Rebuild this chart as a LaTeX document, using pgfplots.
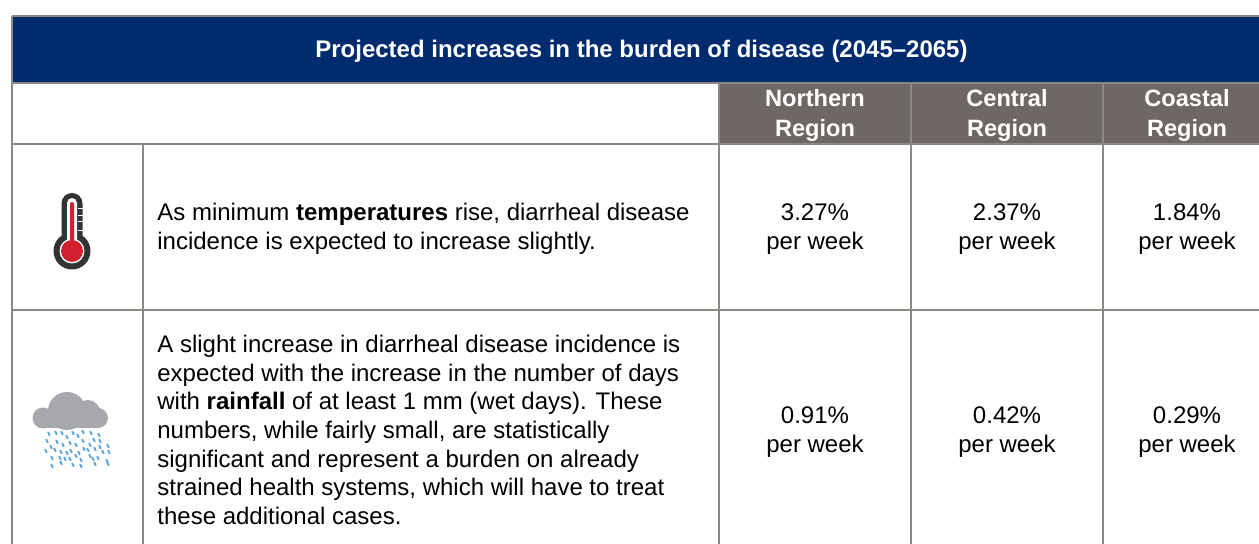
\documentclass[border=0pt]{standalone}
\usepackage{fontspec}
\setmainfont{Liberation Sans}
\usepackage{pgfplots}
\pgfplotsset{compat=1.18}
\definecolor{navy}{HTML}{002B6E}
\definecolor{headgray}{HTML}{6E6763}
\definecolor{rule}{HTML}{8C8883}
\definecolor{thermo}{HTML}{333333}
\definecolor{thred}{HTML}{D2202E}
\definecolor{cloud}{HTML}{A7A8AB}
\definecolor{rain}{HTML}{5AA5DA}
\pgfdeclareplotmark{raindrop}{%
  \pgfpathmoveto{\pgfqpoint{-0.45pt}{0.9pt}}%
  \pgfpathlineto{\pgfqpoint{0.45pt}{-0.9pt}}%
  \pgfusepathqstroke}
\newcommand{\bodyfont}{\fontsize{12}{14.35}\selectfont}
\newcommand{\cellfont}{\fontsize{12}{14.7}\selectfont}
\begin{document}
\begin{tikzpicture}
\begin{axis}[
  scale only axis,
  width=629.5pt,
  height=272pt,
  xmin=0, xmax=1259,
  ymin=0, ymax=544,
  y dir=reverse,
  axis lines=none,
  clip=true,
]
% keep the whole axis area in the bounding box
\path (axis cs:0,0) rectangle (axis cs:1259,544);
% bands
\addplot[fill=navy, draw=none] coordinates {(12,17)(1259,17)(1259,83)(12,83)} -- cycle;
\addplot[fill=headgray, draw=none] coordinates {(719,83)(1259,83)(1259,144)(719,144)} -- cycle;
% horizontal rules
\addplot[rule, line width=1pt] coordinates {(12,16.5)(1259,16.5)};
\addplot[rule, line width=1pt] coordinates {(12,83)(1259,83)};
\addplot[rule, line width=1pt] coordinates {(12,144)(1259,144)};
\addplot[rule, line width=1pt] coordinates {(12,310)(1259,310)};
% vertical rules
\addplot[rule, line width=1pt] coordinates {(12,16)(12,544)};
\addplot[rule, line width=1pt] coordinates {(143,144)(143,544)};
\addplot[rule, line width=1pt] coordinates {(719,83)(719,544)};
\addplot[rule, line width=1pt] coordinates {(911,83)(911,544)};
\addplot[rule, line width=1pt] coordinates {(1103,83)(1103,544)};
% percentages per week
\addplot[draw=none, mark=none, point meta=explicit,
  nodes near coords={\pgfmathprintnumber[fixed,precision=2,fixed zerofill,assume math mode=true]{\pgfplotspointmeta}\%\\per week},
  every node near coord/.style={anchor=center, align=center, text=black, font=\cellfont, inner sep=0pt},
] table[meta=v] {
x y v
815 229 3.27
1007 229 2.37
1187 229 1.84
815 432 0.91
1007 432 0.42
1187 432 0.29
};
% rain
\addplot[only marks, mark=raindrop, rain, mark options={line width=1pt}] coordinates {
(49,434)(56,433)(62,433)(67,437)(73,433)(78,436)(83,432)(91,433)(99,435)
(47,441)(57,442)(63,445)(70,443)(76,445)(83,441)(90,445)(94,440)(100,441)(108,446)
(46,451)(51,447)(55,450)(61,452)(67,453)(71,451)(79,453)(84,449)(88,450)(95,449)(100,447)(103,452)(109,452)
(52,458)(60,458)(65,459)(70,459)(76,456)(81,460)(90,456)(93,459)(98,458)(107,461)
(52,466)(61,463)(73,465)(81,466)(95,464)(108,464)
};
% thermometer
\fill[thermo] (axis cs:72,251) circle[radius=9.25pt];
\fill[thermo, rounded corners=5.2pt] (axis cs:61.5,193) rectangle (axis cs:82.5,245);
\fill[white] (axis cs:72,251) circle[radius=6.25pt];
\fill[white, rounded corners=2.5pt] (axis cs:67,198) rectangle (axis cs:77,245);
\fill[thred] (axis cs:72,251) circle[radius=5.5pt];
\fill[thred, rounded corners=1pt] (axis cs:70,202) rectangle (axis cs:74,245);
\foreach \ty in {209,216,222,231} {
  \edef\temp{\noexpand\draw[white, line width=0.5pt] (axis cs:78,\ty) -- (axis cs:83,\ty);}
  \temp
}
% cloud
\fill[cloud] (axis cs:43,418) circle[radius=5.25pt];
\fill[cloud] (axis cs:98,418) circle[radius=5pt];
\fill[cloud] (axis cs:67,411) circle[radius=9.5pt];
\fill[cloud] (axis cs:88,412) circle[radius=6pt];
\fill[cloud] (axis cs:43,412) rectangle (axis cs:98,428);
% title and headers
\node[text=white, font=\fontsize{12}{14}\selectfont\bfseries] at (axis cs:641.5,51) {Projected increases in the burden of disease (2045--2065)};
\node[text=white, align=center, font=\fontsize{11.8}{15}\selectfont\bfseries] at (axis cs:815,115.5) {Northern\\Region};
\node[text=white, align=center, font=\fontsize{11.8}{15}\selectfont\bfseries] at (axis cs:1007,115.5) {Central\\Region};
\node[text=white, align=center, font=\fontsize{11.8}{15}\selectfont\bfseries] at (axis cs:1187,115.5) {Coastal\\Region};
% row text
\node[anchor=west, align=left, inner sep=0pt, font=\cellfont] at (axis cs:157,229)
  {As minimum \textbf{temperatures} rise, diarrheal disease\\incidence is expected to increase slightly.};
\node[anchor=west, align=left, inner sep=0pt, font=\bodyfont] at (axis cs:157,430)
  {A slight increase in diarrheal disease incidence is\\expected with the increase in the number of days\\with \textbf{rainfall} of at least 1 mm (wet days). These\\numbers, while fairly small, are statistically\\significant and represent a burden on already\\strained health systems, which will have to treat\\these additional cases.};
\end{axis}
\end{tikzpicture}
\end{document}
